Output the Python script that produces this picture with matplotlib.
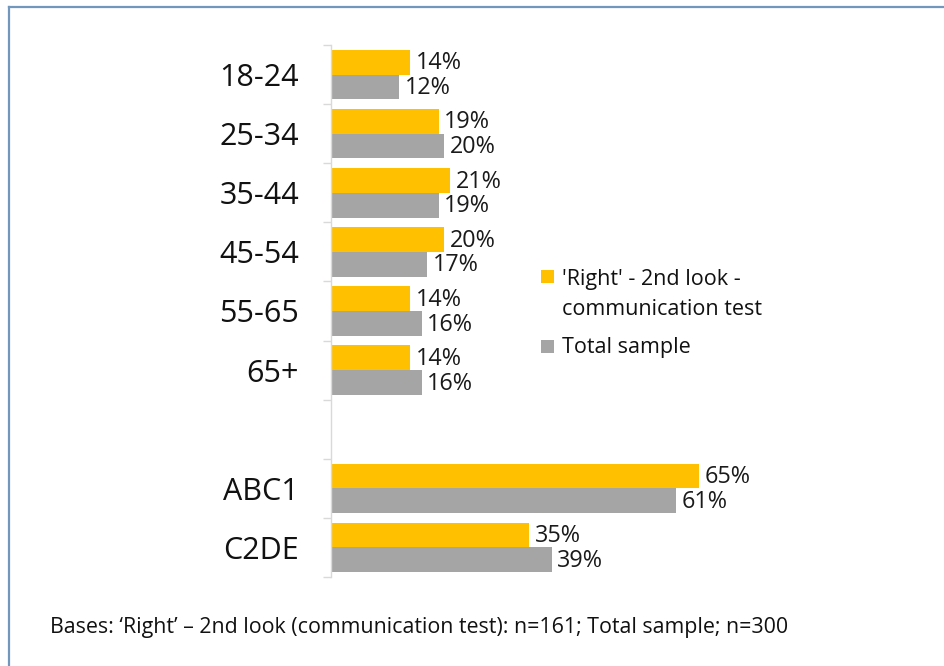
import matplotlib
matplotlib.use("Agg")
import matplotlib.pyplot as plt
from matplotlib.lines import Line2D
from matplotlib.patches import Rectangle
import numpy as np

plt.rcParams["font.family"] = ["Open Sans", "DejaVu Sans"]

# data
categories = ["18-24", "25-34", "35-44", "45-54", "55-65", "65+", "", "ABC1", "C2DE"]
right_2nd_look = [14, 19, 21, 20, 14, 14, None, 65, 35]
total_sample = [12, 20, 19, 17, 16, 16, None, 61, 39]
series_names = ["'Right' - 2nd look -\ncommunication test", "Total sample"]
footnote = "Bases: \u2018Right\u2019 \u2013 2nd look (communication test): n=161; Total sample; n=300"

ORANGE = "#FFC000"
GREY = "#A5A5A5"
AXIS_GREY = "#D9D9D9"
BORDER = "#7297BD"

W, H = 944, 666
fig = plt.figure(figsize=(W / 100, H / 100), dpi=100)
ax = fig.add_axes([331 / W, 1 - 577 / H, 566 / W, 532 / H])

y = np.arange(len(categories))
bh = 0.42
for vals, off, col in [(right_2nd_look, -bh / 2, ORANGE), (total_sample, bh / 2, GREY)]:
    for yi, v in zip(y, vals):
        if v is None:
            continue
        ax.barh(yi + off, v, height=bh, color=col, edgecolor="none")
        ax.text(v + 1.0, yi + off + 0.02, f"{v}%", va="center", ha="left",
                fontsize=16.8, color="#1a1a1a")

ax.set_xlim(0, 100)
ax.set_ylim(len(categories) - 0.5, -0.5)
ax.set_xticks([])
ax.set_yticks(y)
ax.set_yticklabels(categories, fontsize=22, color="#111111")
ax.tick_params(axis="y", which="major", length=0, pad=23)
ax.set_yticks(np.arange(-0.5, len(categories), 1), minor=True)
ax.tick_params(axis="y", which="minor", length=6, color=AXIS_GREY, width=1)
for s in ["top", "right", "bottom"]:
    ax.spines[s].set_visible(False)
ax.spines["left"].set_color(AXIS_GREY)
ax.spines["left"].set_linewidth(1)

# legend drawn by hand so the square sits on the first text line
leg_items = [(series_names[0], ORANGE, 270, 285), (series_names[1], GREY, 340, 353)]
for label, col, sq_top, base in leg_items:
    fig.add_artist(Rectangle((541 / W, 1 - (sq_top + 13) / H), 13 / W, 13 / H,
                             facecolor=col, edgecolor="none", transform=fig.transFigure))
    for k, line in enumerate(label.split("\n")):
        fig.text(562 / W, 1 - (base + 30 * k) / H, line, fontsize=15.5,
                 va="baseline", ha="left", color="#111111")

fig.text(50 / W, 1 - 628 / H, footnote, fontsize=15.4, va="center", ha="left", color="#111111")

# outer border (left and top edges)
fig.add_artist(Line2D([8.5 / W, 8.5 / W], [0, 1 - 6.5 / H], color=BORDER, lw=1.6,
                      transform=fig.transFigure))
fig.add_artist(Line2D([8.5 / W, 1], [1 - 6.5 / H, 1 - 6.5 / H], color=BORDER, lw=1.6,
                      transform=fig.transFigure))

fig.savefig("out.png", dpi=100)
